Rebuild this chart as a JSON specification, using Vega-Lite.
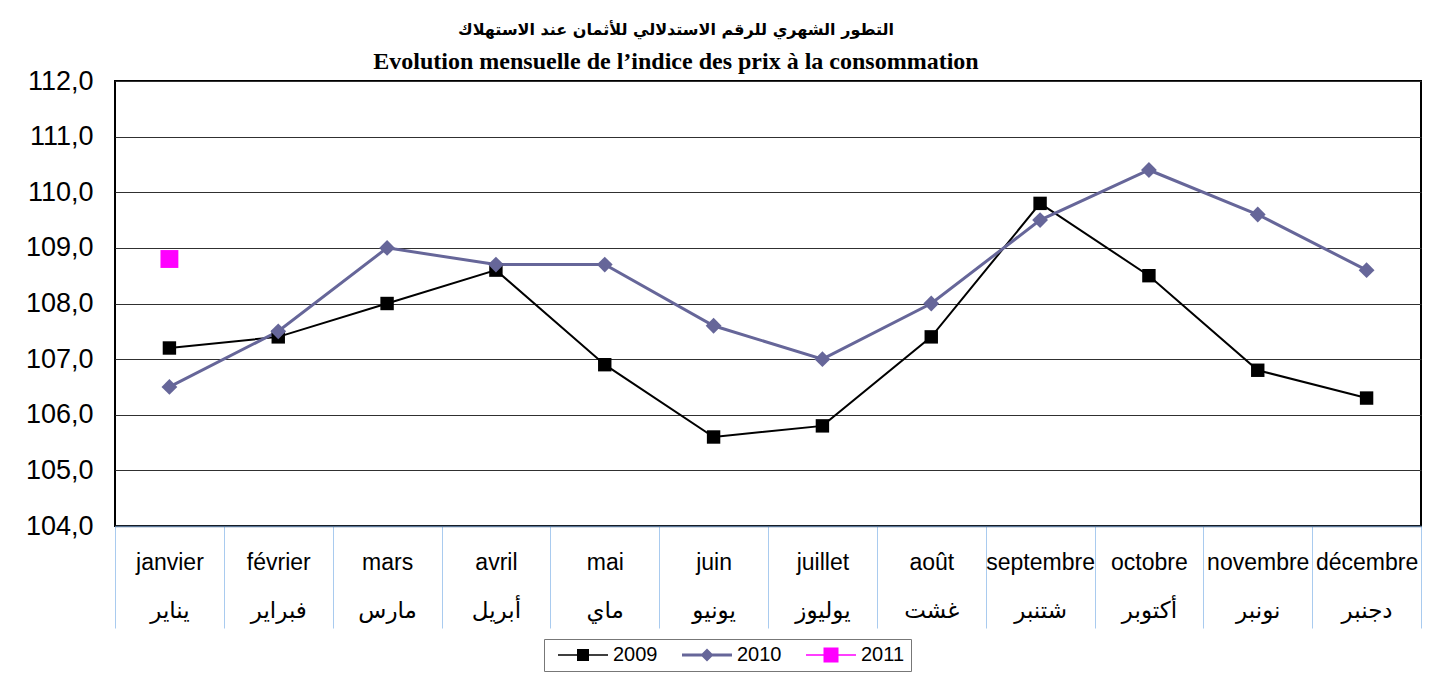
{
  "$schema": "https://vega.github.io/schema/vega-lite/v6.json",
  "width": 1306,
  "height": 445,
  "autosize": {"type": "none"},
  "padding": {"left": 115, "top": 81, "right": 14, "bottom": 149},
  "background": "white",
  "title": {
    "text": "التطور الشهري للرقم الاستدلالي للأثمان عند الاستهلاك",
    "subtitle": "Evolution mensuelle de l’indice des prix à la consommation",
    "anchor": "middle",
    "frame": "group",
    "dx": -92,
    "offset": -7,
    "font": "DejaVu Sans",
    "fontSize": 16,
    "fontWeight": "bold",
    "color": "black",
    "subtitleFont": "Liberation Serif",
    "subtitleFontSize": 24,
    "subtitleFontWeight": "bold",
    "subtitleColor": "black",
    "subtitlePadding": 12
  },
  "data": {
    "values": [
      {"mois": "janvier|يناير", "annee": "2009", "indice": 107.2},
      {"mois": "février|فبراير", "annee": "2009", "indice": 107.4},
      {"mois": "mars|مارس", "annee": "2009", "indice": 108.0},
      {"mois": "avril|أبريل", "annee": "2009", "indice": 108.6},
      {"mois": "mai|ماي", "annee": "2009", "indice": 106.9},
      {"mois": "juin|يونيو", "annee": "2009", "indice": 105.6},
      {"mois": "juillet|يوليوز", "annee": "2009", "indice": 105.8},
      {"mois": "août|غشت", "annee": "2009", "indice": 107.4},
      {"mois": "septembre|شتنبر", "annee": "2009", "indice": 109.8},
      {"mois": "octobre|أكتوبر", "annee": "2009", "indice": 108.5},
      {"mois": "novembre|نونبر", "annee": "2009", "indice": 106.8},
      {"mois": "décembre|دجنبر", "annee": "2009", "indice": 106.3},
      {"mois": "janvier|يناير", "annee": "2010", "indice": 106.5},
      {"mois": "février|فبراير", "annee": "2010", "indice": 107.5},
      {"mois": "mars|مارس", "annee": "2010", "indice": 109.0},
      {"mois": "avril|أبريل", "annee": "2010", "indice": 108.7},
      {"mois": "mai|ماي", "annee": "2010", "indice": 108.7},
      {"mois": "juin|يونيو", "annee": "2010", "indice": 107.6},
      {"mois": "juillet|يوليوز", "annee": "2010", "indice": 107.0},
      {"mois": "août|غشت", "annee": "2010", "indice": 108.0},
      {"mois": "septembre|شتنبر", "annee": "2010", "indice": 109.5},
      {"mois": "octobre|أكتوبر", "annee": "2010", "indice": 110.4},
      {"mois": "novembre|نونبر", "annee": "2010", "indice": 109.6},
      {"mois": "décembre|دجنبر", "annee": "2010", "indice": 108.6},
      {"mois": "janvier|يناير", "annee": "2011", "indice": 108.8}
    ]
  },
  "encoding": {
    "x": {
      "field": "mois",
      "type": "nominal",
      "sort": null,
      "title": null,
      "scale": {"paddingInner": 0, "paddingOuter": 0},
      "axis": {
        "labelExpr": "split(datum.label, '|')",
        "labelAngle": 0,
        "labelFont": "Liberation Sans, DejaVu Sans",
        "labelFontSize": 23,
        "labelColor": "black",
        "labelLineHeight": 48,
        "labelPadding": -77,
        "labelBaseline": "top",
        "labelLimit": 0,
        "tickBand": "extent",
        "tickSize": 102,
        "tickColor": "#a9cbef",
        "tickWidth": 1,
        "domainColor": "#5a7696",
        "domainWidth": 1.5,
        "grid": false
      }
    },
    "y": {
      "field": "indice",
      "type": "quantitative",
      "title": null,
      "scale": {"domain": [104, 112], "nice": false, "zero": false},
      "axis": {
        "values": [104, 105, 106, 107, 108, 109, 110, 111, 112],
        "labelExpr": "replace(format(datum.value, '.1f'), '.', ',')",
        "labelFont": "Liberation Sans",
        "labelFontSize": 27,
        "labelColor": "black",
        "labelPadding": 22,
        "ticks": false,
        "domain": false,
        "grid": true,
        "gridColor": "#303030",
        "gridWidth": 1
      }
    }
  },
  "layer": [
    {
      "mark": {"type": "line"},
      "encoding": {
        "color": {
          "field": "annee",
          "type": "nominal",
          "title": null,
          "scale": {"domain": ["2009", "2010", "2011"], "range": ["#000000", "#666699", "#ff00ff"]},
          "legend": {
            "orient": "none",
            "legendX": 429,
            "legendY": 558,
            "direction": "horizontal",
            "labelFont": "Liberation Sans",
            "labelFontSize": 20,
            "labelColor": "black",
            "labelOffset": 20,
            "labelBaseline": "middle",
            "columnPadding": 16,
            "symbolSize": 400,
            "symbolOffset": 23,
            "symbolStrokeWidth": 0,
            "strokeColor": "#777777",
            "padding": 6,
            "encode": {
              "symbols": {
                "update": {
                  "shape": {"signal": "datum.value == '2010' ? 'M-2.5,-0.15H2.5V0.15H-2.5ZM-0.65,0L0,-0.65L0.65,0L0,0.65Z' : (datum.value == '2011' ? 'M-2.5,-0.08H2.5V0.08H-2.5ZM-0.75,-0.75H0.75V0.75H-0.75Z' : 'M-2.5,-0.08H2.5V0.08H-2.5ZM-0.6,-0.6H0.6V0.6H-0.6Z')"},
                  "size": {"value": 400},
                  "fill": {"signal": "datum.value == '2009' ? '#000000' : (datum.value == '2010' ? '#666699' : '#ff00ff')"},
                  "fillOpacity": {"value": 1},
                  "strokeWidth": {"value": 0},
                  "opacity": {"value": 1}
                }
              }
            }
          }
        },
        "strokeWidth": {
          "field": "annee",
          "type": "nominal",
          "scale": {"domain": ["2009", "2010", "2011"], "range": [2, 4, 2]},
          "legend": null
        }
      }
    },
    {
      "mark": {"type": "point", "filled": true, "opacity": 1},
      "encoding": {
        "color": {
          "field": "annee",
          "type": "nominal",
          "scale": {"domain": ["2009", "2010", "2011"], "range": ["#000000", "#666699", "#ff00ff"]},
          "legend": null
        },
        "shape": {
          "field": "annee",
          "type": "nominal",
          "scale": {"domain": ["2009", "2010", "2011"], "range": ["square", "diamond", "square"]},
          "legend": null
        },
        "size": {
          "field": "annee",
          "type": "nominal",
          "scale": {"domain": ["2009", "2010", "2011"], "range": [180, 320, 180]},
          "legend": null
        }
      }
    }
  ],
  "resolve": {"scale": {"color": "independent"}},
  "config": {
    "view": {"stroke": "black", "strokeWidth": 2}
  }
}
